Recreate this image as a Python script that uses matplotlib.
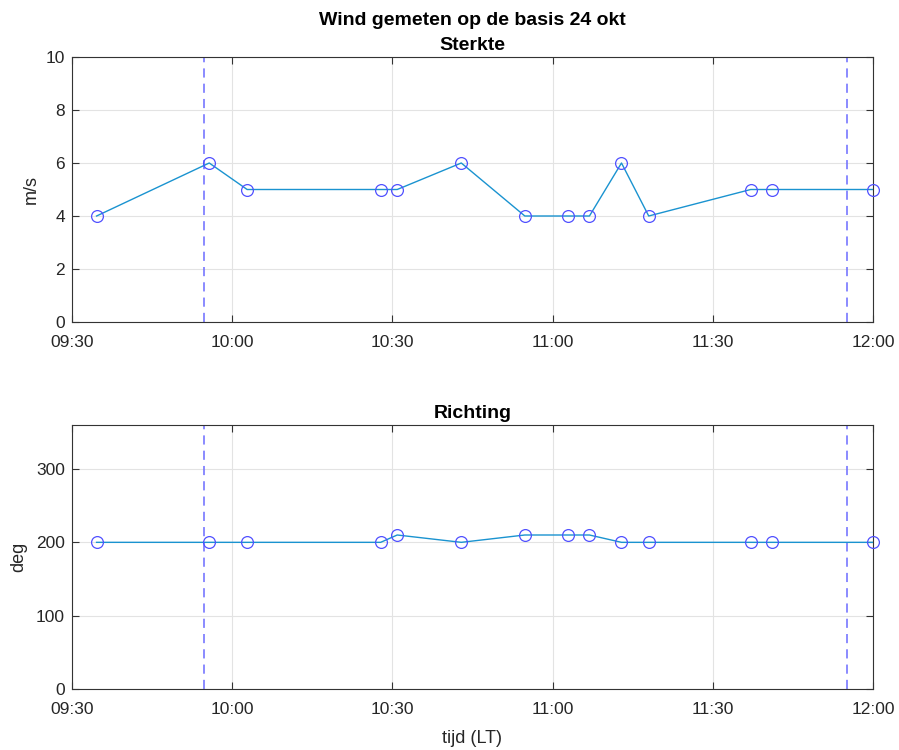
import matplotlib
matplotlib.use("Agg")
import matplotlib.pyplot as plt
import matplotlib.dates as mdates
from datetime import datetime, timedelta

plt.rcParams['font.family'] = ['Liberation Sans', 'DejaVu Sans']

# Measurement times (minutes after 09:30 on 24 Oct)
minutes = [4.6, 25.7, 32.8, 57.8, 60.9, 72.9, 84.8, 92.9, 96.9, 102.9, 108.0, 127.1, 131.1, 150.0]
speed = [4, 6, 5, 5, 5, 6, 4, 4, 4, 6, 4, 5, 5, 5]          # m/s
direction = [200, 200, 200, 200, 210, 200, 210, 210, 210, 200, 200, 200, 200, 200]  # deg
marker_minutes = [24.7, 145.1]   # vertical dashed reference times

base = datetime(2023, 10, 24, 9, 30)
times = [base + timedelta(minutes=m) for m in minutes]
vtimes = [base + timedelta(minutes=m) for m in marker_minutes]
xmin, xmax = base, base + timedelta(minutes=150)

fig = plt.figure(figsize=(8.99, 7.5), dpi=100)
ax1 = fig.add_axes([72/899, 1-322/750, (873-72)/899, (322-57)/750])
ax2 = fig.add_axes([72/899, 1-689/750, (873-72)/899, (689-425)/750])

line_c = '#1a93d0'
mark_c = '#5050ff'
vline_c = '#6b6bff'
text_c = '#262626'

def style(ax):
    ax.set_xlim(xmin, xmax)
    ax.xaxis.set_major_locator(mdates.MinuteLocator(byminute=[0, 30]))
    ax.xaxis.set_major_formatter(mdates.DateFormatter('%H:%M'))
    ax.grid(True, color='#e3e3e3', linewidth=0.8)
    ax.set_axisbelow(True)
    ax.tick_params(direction='in', top=True, right=True, labelsize=12.5,
                   color='#333333', labelcolor=text_c, length=5, width=0.8)
    ax.tick_params(axis='x', pad=9.5)
    ax.tick_params(axis='y', pad=5)
    for s in ax.spines.values():
        s.set_color('#333333')
        s.set_linewidth(0.8)

for ax, vals in [(ax1, speed), (ax2, direction)]:
    ax.plot(times, vals, color=line_c, linewidth=1.0, zorder=3)
    ax.plot(times, vals, linestyle='none', marker='o', markersize=8.5,
            markerfacecolor='none', markeredgecolor=mark_c, markeredgewidth=0.9,
            zorder=4, clip_on=False)
    for vt in vtimes:
        ax.axvline(vt, color=vline_c, linestyle=(0, (6, 4)), linewidth=1.1, zorder=2)
    style(ax)

ax1.set_ylim(0, 10)
ax1.set_yticks(range(0, 11, 2))
ax1.set_ylabel('m/s', fontsize=13, labelpad=4, color=text_c)
ax1.set_title('Wind gemeten op de basis 24 okt\nSterkte', fontsize=14,
              fontweight='bold', pad=5, linespacing=1.65)

ax2.set_ylim(0, 360)
ax2.set_yticks([0, 100, 200, 300])
ax2.set_ylabel('deg', fontsize=13, labelpad=6, color=text_c)
ax2.set_xlabel('tijd (LT)', fontsize=13, labelpad=9, color=text_c)
ax2.set_title('Richting', fontsize=14, fontweight='bold', pad=5)

fig.savefig('out.png', dpi=100)
